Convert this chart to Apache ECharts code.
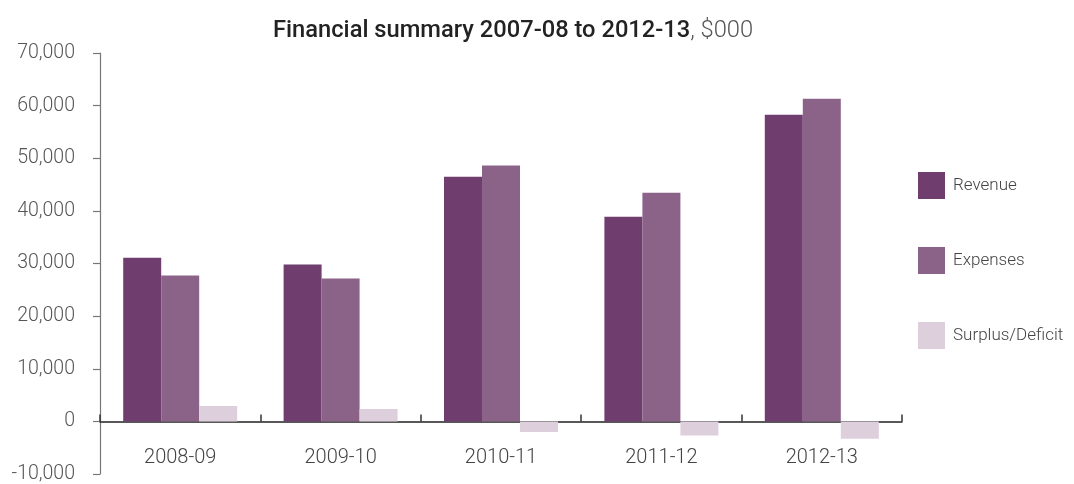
<!DOCTYPE html>
<html>
<head>
<meta charset="utf-8">
<script src="https://cdn.jsdelivr.net/npm/echarts@6/dist/echarts.min.js"></script>
<style>
html,body{margin:0;padding:0;background:#fff;}
#chart{width:1074px;height:484px;}
</style>
</head>
<body>
<div id="chart"></div>
<script>
var categories = ['2008-09', '2009-10', '2010-11', '2011-12', '2012-13'];
var revenue = [31100, 29800, 46500, 38900, 58250];
var expenses = [27700, 27150, 48600, 43450, 61300];
var surplus = [2900, 2350, -2000, -2700, -3300];
var yTicks = { min: -10000, max: 70000, interval: 10000 };

var FONT = 'Roboto';
var chart = echarts.init(document.getElementById('chart'));
function fmt(v){ return v.toLocaleString('en-US'); }
chart.setOption({
  animation: false,
  textStyle: { fontFamily: FONT },
  title: {
    text: '{b|Financial summary 2007-08 to 2012-13}{n|, $000}',
    left: 268,
    top: 14,
    textStyle: {
      rich: {
        b: { fontFamily: FONT, fontSize: 23.7, fontWeight: 500, color: '#222' },
        n: { fontFamily: FONT, fontSize: 23.7, fontWeight: 300, color: '#555' }
      }
    }
  },
  legend: {
    orient: 'vertical',
    left: 913,
    top: 167,
    itemWidth: 27,
    itemHeight: 27,
    itemGap: 48,
    icon: 'rect',
    textStyle: { fontFamily: FONT, fontSize: 17, color: '#444', fontWeight: 300, padding: [0,0,0,3] },
    data: ['Revenue', 'Expenses', 'Surplus/Deficit']
  },
  grid: { left: 100, right: 172, top: 53, bottom: 10, containLabel: false, outerBoundsMode: 'none' },
  xAxis: {
    type: 'category',
    data: categories,
    boundaryGap: true,
    axisLine: { onZero: true, lineStyle: { color: '#222', width: 1.5 } },
    axisTick: { show: true, inside: true, length: 7, lineStyle: { color: '#333', width: 1.5 } },
    axisLabel: { fontFamily: FONT, fontSize: 20, color: '#444', margin: -26, fontWeight: 300 },
    splitLine: { show: false }
  },
  yAxis: {
    type: 'value',
    min: yTicks.min,
    max: yTicks.max,
    interval: yTicks.interval,
    axisLine: { show: true, lineStyle: { color: '#777', width: 1.2 } },
    axisTick: { show: true, length: 7, lineStyle: { color: '#777', width: 1.2 } },
    axisLabel: { fontFamily: FONT, fontSize: 19.5, color: '#555', margin: 25, fontWeight: 300, formatter: fmt },
    splitLine: { show: false }
  },
  series: [
    { name: 'Revenue', type: 'bar', data: revenue, barWidth: 38, barGap: '0%', itemStyle: { color: '#6f3d6e' } },
    { name: 'Expenses', type: 'bar', data: expenses, barWidth: 38, barGap: '0%', itemStyle: { color: '#8b6389' } },
    { name: 'Surplus/Deficit', type: 'bar', data: surplus, barWidth: 38, barGap: '0%', itemStyle: { color: '#ddd0dc' } }
  ]
});
</script>
</body>
</html>
